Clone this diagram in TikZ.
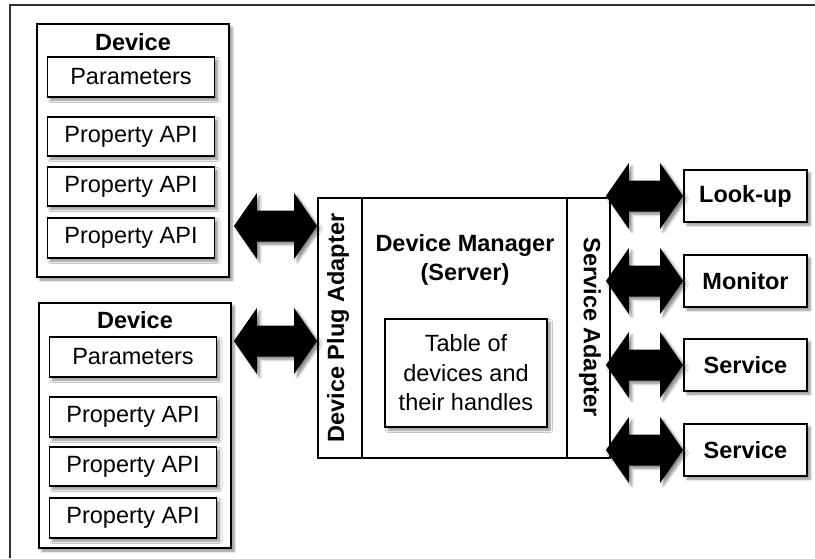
\documentclass[tikz,border=0pt]{standalone}
\usepackage{fontspec}
\setmainfont{Liberation Sans}
\usetikzlibrary{calc,shadows.blur}

\tikzset{
  softshadow/.style={blur shadow={shadow xshift=3pt, shadow yshift=-3pt,
      shadow blur radius=2.5pt, shadow blur steps=6, shadow opacity=45}},
  txt/.style={font=\fontsize{23.5}{29.5}\selectfont},
  btxt/.style={font=\fontsize{23.5}{29.5}\selectfont\bfseries},
  box/.style={draw=black, line width=1.8pt, fill=white, rectangle,
      inner sep=0pt, softshadow},
  devbox/.style={box, minimum width=192pt, minimum height=#1},
  itembox/.style={box, txt, minimum width=167pt, minimum height=#1},
  clientbox/.style={box, btxt, minimum width=123pt, minimum height=52pt},
  panel/.style={draw=black, line width=1.8pt, fill=white, rectangle,
      inner sep=0pt, minimum height=260pt, minimum width=#1},
  fatarrow/.style={fill=black, softshadow},
  frame/.style={draw=black!80, line width=2pt},
}

% two-headed block arrow between the anchors #1 and #2, at the height of #3,
% with its left tip moved by #4
\newcommand\biarrow[4]{%
  \path[fatarrow] let \p1=(#1), \p2=(#2), \p3=(#3) in
    (\x1+#4,\y3) -- (\x1+#4+23pt,\y3+33pt) -- (\x1+#4+23pt,\y3+15.5pt)
    -- (\x2-23pt,\y3+15.5pt) -- (\x2-23pt,\y3+33pt) -- (\x2,\y3)
    -- (\x2-23pt,\y3-33pt) -- (\x2-23pt,\y3-15.5pt)
    -- (\x1+#4+23pt,\y3-15.5pt) -- (\x1+#4+23pt,\y3-33pt) -- cycle;}

\begin{document}
\begin{tikzpicture}[x=1pt, y=-1pt]
  \useasboundingbox (0,0) rectangle (815,558);

  % page frame (only its top and left edges lie inside the picture)
  \draw[frame] (10,558) -- (10,5) -- (815,5);

  % first device
  \node[devbox=253pt] (dev1) at (133,150.5) {};
  \node[btxt] (dev1t) at (133,42) {Device};
  \node[itembox=40pt] (par1) at (131,77) {Parameters};
  \node[itembox=39pt] (pa1) at (131,136.5) {Property API};
  \node[itembox=39pt] (pb1) at (131,186.5) {Property API};
  \node[itembox=40pt] (pc1) at (131,238) {Property API};

  % second device
  \node[devbox=245pt] (dev2) at (135,425.5) {};
  \node[btxt] (dev2t) at (135,320) {Device};
  \node[itembox=40pt] (par2) at (133,357) {Parameters};
  \node[itembox=40pt] (pa2) at (133,417) {Property API};
  \node[itembox=39pt] (pb2) at (133,466.5) {Property API};
  \node[itembox=40pt] (pc2) at (133,518) {Property API};

  % device manager with its two adapters
  \node[panel=44pt] (plug) at (340,328) {};
  \node[panel=205pt] (core) at (464.5,328) {};
  \node[panel=43pt] (svc) at (588.5,328) {};
  \node[btxt, rotate=90] (plugt) at (338,328) {Device Plug Adapter};
  \node[btxt, rotate=-90] (svct) at (590,327) {Service Adapter};
  \node[btxt, align=center] (coret) at (465,260) {Device Manager\\(Server)};
  \node[box, txt, align=center, minimum width=162pt, minimum height=108pt]
    (table) at (466,373) {Table of\\devices and\\their handles};

  % clients on the service side
  \node[clientbox] (lookup) at (745.5,196) {Look-up};
  \node[clientbox] (monitor) at (745.5,281) {Monitor};
  \node[clientbox] (serv1) at (745.5,365) {Service};
  \node[clientbox] (serv2) at (745.5,450) {Service};

  % links
  \coordinate (row1) at (0,226);
  \coordinate (row2) at (0,341);
  \biarrow{dev1.east}{plug.west}{row1}{4pt}
  \biarrow{dev2.east}{plug.west}{row2}{2pt}
  \biarrow{svc.east}{lookup.west}{lookup.west}{-5pt}
  \biarrow{svc.east}{monitor.west}{monitor.west}{-5pt}
  \biarrow{svc.east}{serv1.west}{serv1.west}{-5pt}
  \biarrow{svc.east}{serv2.west}{serv2.west}{-5pt}
\end{tikzpicture}
\end{document}
